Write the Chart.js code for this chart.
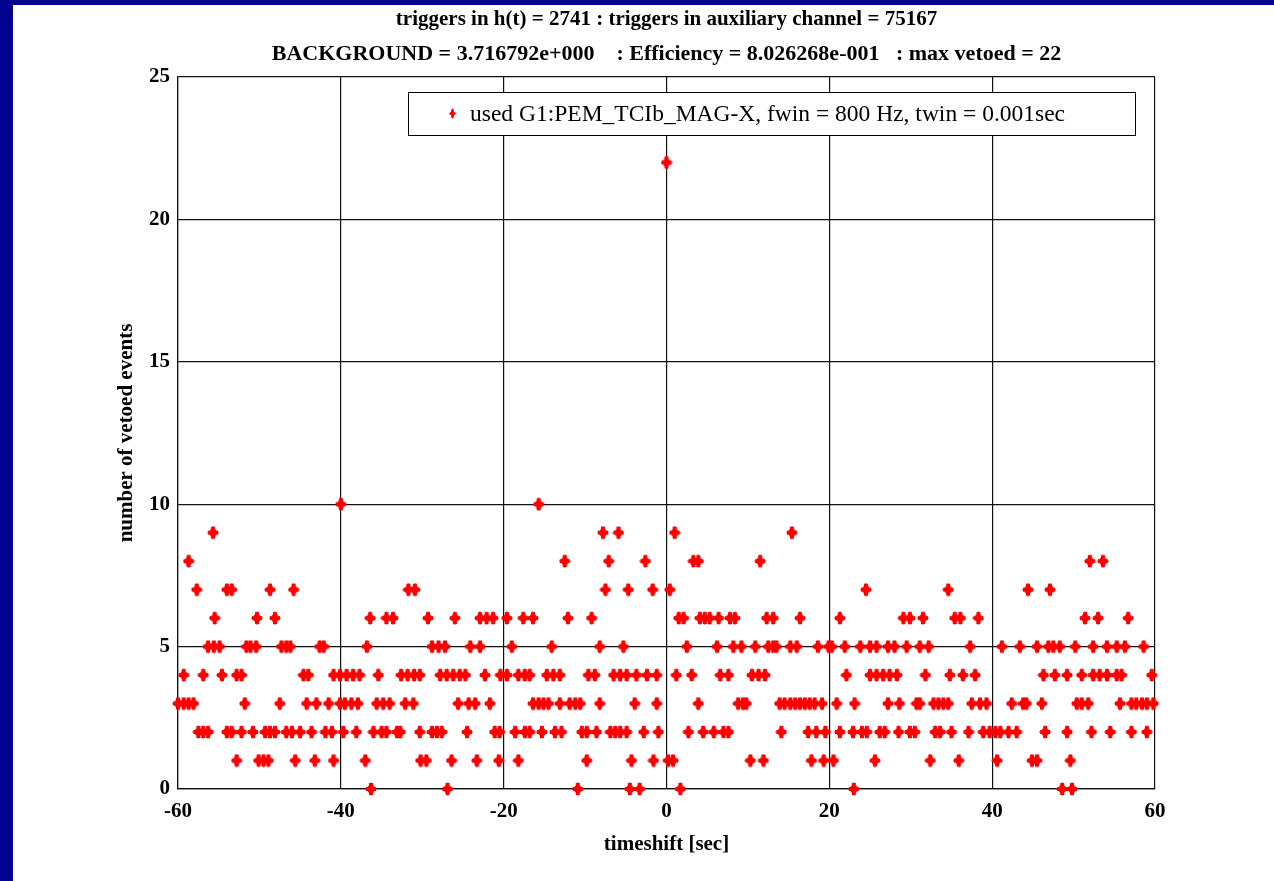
<!DOCTYPE html>
<html>
<head>
<meta charset="utf-8">
<script src="https://cdn.jsdelivr.net/npm/chart.js@4.4.1/dist/chart.umd.min.js"></script>
<style>
  html, body { margin: 0; padding: 0; background: #030390; overflow: hidden; }
  #panel { position: absolute; left: 13px; top: 5px; width: 1261px; height: 876px; background: #fff; }
</style>
</head>
<body>
<div id="panel"><canvas id="vetoChart" width="1261" height="876"></canvas></div>
<script>
// timeshifts (sec) at which a given number of events was vetoed
const shiftsAt0 = [-36.3, -26.9, -10.9, -4.5, -3.3, 1.7, 23.0, 48.6, 49.8];
const shiftsAt1 = [-52.8, -50.1, -49.5, -48.9, -45.6, -43.2, -40.9, -37.0, -30.2, -29.5, -26.4, -23.3, -20.6, -18.2, -9.8, -4.3, -1.6, 0.2, 0.8, 10.3, 11.9, 17.8, 19.3, 20.5, 25.6, 32.4, 35.9, 40.6, 44.9, 45.5, 49.6];
const shiftsAt2 = [-57.5, -56.9, -56.3, -54.0, -53.4, -52.2, -50.8, -49.3, -48.7, -48.1, -46.7, -46.0, -45.0, -43.6, -41.9, -41.1, -39.7, -38.1, -36.0, -35.0, -34.4, -33.1, -32.7, -30.3, -28.8, -28.2, -27.6, -24.5, -21.1, -20.5, -18.6, -17.4, -16.8, -15.3, -13.7, -12.9, -10.4, -9.8, -8.6, -6.9, -6.3, -5.7, -4.9, -2.8, -1.0, 2.7, 4.5, 5.8, 7.0, 7.6, 14.1, 17.4, 18.4, 19.5, 21.3, 22.9, 24.0, 24.6, 26.2, 26.8, 28.5, 29.9, 30.5, 33.0, 33.6, 35.0, 37.1, 38.9, 39.7, 40.4, 41.0, 42.0, 43.0, 46.5, 49.2, 52.2, 54.5, 57.1, 59.0];
const shiftsAt3 = [-60.0, -59.3, -58.7, -58.1, -51.8, -47.5, -44.2, -43.0, -41.5, -40.1, -39.5, -38.7, -37.9, -35.6, -34.8, -34.0, -32.1, -31.1, -25.6, -24.3, -23.5, -21.7, -16.4, -15.7, -15.1, -14.5, -13.1, -11.9, -11.2, -10.6, -8.2, -3.9, -1.2, 3.9, 8.8, 9.4, 9.8, 13.9, 14.5, 15.2, 15.8, 16.4, 17.0, 17.6, 18.2, 19.1, 20.9, 23.1, 27.2, 28.6, 30.7, 31.1, 32.8, 33.4, 34.0, 34.6, 37.5, 38.5, 39.3, 42.4, 43.8, 44.2, 46.1, 50.4, 51.0, 51.8, 55.7, 57.1, 57.7, 58.4, 59.0, 59.8];
const shiftsAt4 = [-59.3, -56.9, -54.6, -52.8, -52.2, -44.6, -44.0, -40.9, -40.1, -39.3, -38.5, -37.7, -35.4, -32.6, -31.8, -31.0, -30.3, -27.8, -27.0, -26.2, -25.4, -24.7, -22.3, -20.4, -19.6, -18.2, -17.4, -16.8, -14.7, -13.9, -13.1, -9.6, -8.8, -6.5, -5.7, -4.9, -3.7, -2.4, -1.2, 1.2, 3.1, 6.6, 7.6, 10.5, 11.3, 12.1, 22.1, 25.0, 25.8, 26.6, 27.4, 28.3, 31.8, 34.8, 36.4, 37.9, 46.3, 47.7, 49.2, 51.0, 52.4, 53.2, 54.1, 55.3, 55.9, 59.6];
const shiftsAt5 = [-56.3, -55.6, -54.9, -51.6, -51.1, -50.4, -47.3, -46.7, -46.2, -42.6, -42.1, -36.8, -28.8, -28.0, -27.2, -24.1, -22.9, -19.0, -14.1, -8.2, -5.3, 2.5, 6.2, 8.2, 9.2, 10.9, 12.5, 13.1, 13.5, 15.2, 16.0, 18.6, 19.9, 20.3, 21.9, 23.8, 25.0, 25.8, 27.2, 28.0, 29.5, 31.1, 32.2, 37.3, 41.2, 43.4, 45.5, 46.9, 47.5, 48.3, 50.2, 52.4, 54.1, 55.3, 56.3, 58.6];
const shiftsAt6 = [-55.5, -50.3, -48.1, -36.4, -34.4, -33.6, -29.3, -26.0, -22.9, -22.1, -21.3, -19.6, -17.6, -16.4, -12.1, -9.2, 1.5, 2.1, 4.1, 4.7, 5.3, 6.4, 7.8, 8.4, 12.3, 13.1, 16.4, 21.3, 29.1, 29.9, 31.5, 35.4, 36.1, 38.3, 51.4, 53.0, 56.7];
const shiftsAt7 = [-57.7, -54.0, -53.4, -48.7, -45.8, -31.7, -30.9, -7.5, -4.7, -1.7, 0.4, 24.5, 34.6, 44.4, 47.1];
const shiftsAt8 = [-58.7, -12.5, -7.1, -2.6, 3.3, 3.9, 11.5, 52.0, 53.6];
const shiftsAt9 = [-55.7, -7.8, -5.9, 1.0, 15.4];
const shiftsAt10 = [-40.0, -15.7];
const shiftsAt22 = [0.0];

const vetoCounts = [0, 1, 2, 3, 4, 5, 6, 7, 8, 9, 10, 22];
const shiftLists = [shiftsAt0, shiftsAt1, shiftsAt2, shiftsAt3, shiftsAt4, shiftsAt5, shiftsAt6, shiftsAt7, shiftsAt8, shiftsAt9, shiftsAt10, shiftsAt22];

const xTicks = [-60, -40, -20, 0, 20, 40, 60];
const yTicks = [0, 5, 10, 15, 20, 25];

const titleLines = [
  'triggers in h(t) = 2741 : triggers in auxiliary channel = 75167',
  'BACKGROUND = 3.716792e+000    : Efficiency = 8.026268e-001   : max vetoed = 22'
];
const seriesLabel = 'used G1:PEM_TCIb_MAG-X, fwin = 800 Hz, twin = 0.001sec';

const points = [];
shiftLists.forEach((list, i) => {
  list.forEach(t => points.push({ x: t, y: vetoCounts[i] }));
});
points.sort((a, b) => a.x - b.x);

// red four-pointed marker like the matlab one
function makeMarker(w, h, bar, r) {
  const c = document.createElement('canvas');
  c.width = w; c.height = h;
  const g = c.getContext('2d');
  const cx = w / 2, cy = h / 2;
  g.fillStyle = '#ff0000';
  g.fillRect(cx - bar / 2, 1, bar, h - 2);
  g.fillRect(1, cy - bar / 2, w - 2, bar);
  g.beginPath();
  g.moveTo(cx, 0);
  g.lineTo(cx + r, cy - r);
  g.lineTo(w, cy);
  g.lineTo(cx + r, cy + r);
  g.lineTo(cx, h);
  g.lineTo(cx - r, cy + r);
  g.lineTo(0, cy);
  g.lineTo(cx - r, cy - r);
  g.closePath();
  g.fill();
  return c;
}
const marker = makeMarker(12, 14, 4, 2.8);
const legendMarker = makeMarker(7, 11, 2, 1.6);

const serif = "'Liberation Serif', 'DejaVu Serif', serif";

const headerAndLegend = {
  id: 'headerAndLegend',
  afterDraw(chart) {
    const { ctx, chartArea } = chart;
    const cx = (chartArea.left + chartArea.right) / 2;
    ctx.save();
    ctx.fillStyle = '#000';
    ctx.font = 'bold 21px ' + serif;
    ctx.textAlign = 'center';
    ctx.textBaseline = 'middle';
    ctx.fillText(titleLines[0], cx, 15);
    ctx.font = 'bold 22px ' + serif;
    ctx.fillText(titleLines[1], cx, 49);

    // legend box inside the plot
    const bx = chartArea.left + 230, by = chartArea.top + 15, bw = 727, bh = 43;
    ctx.fillStyle = '#fff';
    ctx.fillRect(bx, by, bw, bh);
    ctx.strokeStyle = '#000';
    ctx.lineWidth = 1;
    ctx.strokeRect(bx + 0.5, by + 0.5, bw, bh);
    ctx.drawImage(legendMarker, bx + 41, by + 16);
    ctx.fillStyle = '#000';
    ctx.font = '23.5px ' + serif;
    ctx.textAlign = 'left';
    ctx.fillText(seriesLabel, bx + 62, by + 23);
    ctx.restore();
  }
};

const ctx = document.getElementById('vetoChart').getContext('2d');
new Chart(ctx, {
  type: 'scatter',
  data: {
    datasets: [{
      label: seriesLabel,
      data: points,
      pointStyle: marker,
      clip: false
    }]
  },
  options: {
    responsive: false,
    animation: false,
    layout: { padding: { left: 0, right: 119, top: 72, bottom: 12 } },
    plugins: {
      legend: { display: false },
      tooltip: { enabled: false }
    },
    scales: {
      x: {
        type: 'linear',
        min: -60, max: 60,
        afterBuildTicks: s => { s.ticks = xTicks.map(v => ({ value: v })); },
        afterFit: s => { s.height = 80; },
        grid: { color: '#111', lineWidth: 1.2, drawTicks: false },
        border: { color: '#111', width: 1.2 },
        ticks: { color: '#000', padding: 10, font: { family: serif, size: 21, weight: 'bold' } },
        title: { display: true, text: 'timeshift [sec]', color: '#000', padding: { top: 0, bottom: 12 }, font: { family: serif, size: 21, weight: 'bold' } }
      },
      y: {
        type: 'linear',
        min: 0, max: 25,
        afterBuildTicks: s => { s.ticks = yTicks.map(v => ({ value: v })); },
        afterFit: s => { s.width = 165; },
        grid: { color: '#111', lineWidth: 1.2, drawTicks: false },
        border: { color: '#111', width: 1.2 },
        ticks: { color: '#000', padding: 8, font: { family: serif, size: 21, weight: 'bold' } },
        title: { display: true, text: 'number of vetoed events', color: '#000', padding: { top: 101, bottom: 0 }, font: { family: serif, size: 21, weight: 'bold' } }
      }
    }
  },
  plugins: [headerAndLegend]
});
</script>
</body>
</html>
